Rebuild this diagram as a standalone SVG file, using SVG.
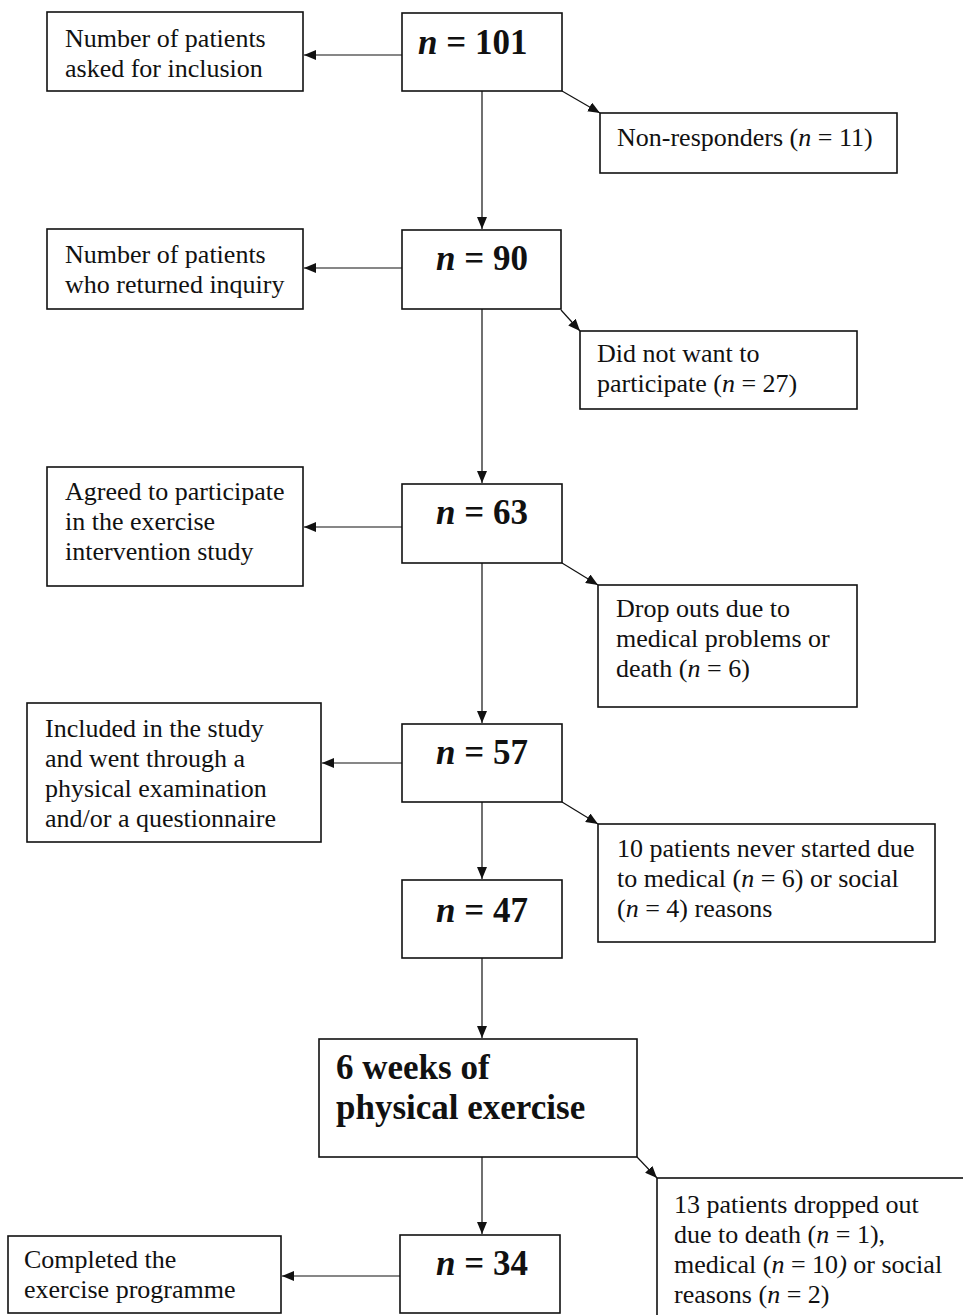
<svg xmlns="http://www.w3.org/2000/svg" width="963" height="1315" viewBox="0 0 963 1315">
<style>
.box{fill:#fff;stroke:#111;stroke-width:1.6}
.ln{stroke:#111;stroke-width:1.2;fill:none;marker-end:url(#ah)}
.t{font-family:"Liberation Serif","Times New Roman",serif;font-size:26px;fill:#111}
.b{font-family:"Liberation Serif","Times New Roman",serif;font-size:35px;font-weight:bold;fill:#111}
.i{font-style:italic}
</style>
<defs>
<marker id="ah" markerUnits="userSpaceOnUse" markerWidth="12" markerHeight="10" refX="12" refY="5" orient="auto">
<path d="M0,0 L12,5 L0,10 Z" fill="#111"/>
</marker>
</defs>
<rect width="963" height="1315" fill="#fff"/>

<g id="connectors">
<line class="ln" x1="402" y1="55" x2="304" y2="55"/>
<line class="ln" x1="562" y1="91" x2="600" y2="113"/>
<line class="ln" x1="482" y1="91" x2="482" y2="229"/>
<line class="ln" x1="402" y1="268" x2="304" y2="268"/>
<line class="ln" x1="561" y1="310" x2="580" y2="331"/>
<line class="ln" x1="482" y1="309" x2="482" y2="483"/>
<line class="ln" x1="402" y1="527" x2="304" y2="527"/>
<line class="ln" x1="562" y1="563" x2="598" y2="585"/>
<line class="ln" x1="482" y1="563" x2="482" y2="723"/>
<line class="ln" x1="402" y1="763" x2="322" y2="763"/>
<line class="ln" x1="562" y1="802" x2="598" y2="824"/>
<line class="ln" x1="482" y1="802" x2="482" y2="879"/>
<line class="ln" x1="482" y1="958" x2="482" y2="1038"/>
<line class="ln" x1="637" y1="1157" x2="657" y2="1178"/>
<line class="ln" x1="482" y1="1157" x2="482" y2="1234"/>
<line class="ln" x1="400" y1="1276" x2="282" y2="1276"/>
</g>

<g id="asked">
<rect class="box" x="47" y="12" width="256" height="79"/>
<text class="t" x="65" y="47">Number of patients</text>
<text class="t" x="65" y="77">asked for inclusion</text>
</g>
<g id="n101">
<rect class="box" x="402" y="13" width="160" height="78"/>
<text class="b" x="418" y="54"><tspan class="i">n</tspan> = 101</text>
</g>
<g id="nonresp">
<rect class="box" x="600" y="113" width="297" height="60"/>
<text class="t" x="617" y="146">Non-responders (<tspan class="i">n</tspan> = 11)</text>
</g>

<g id="returned">
<rect class="box" x="47" y="229" width="256" height="80"/>
<text class="t" x="65" y="263">Number of patients</text>
<text class="t" x="65" y="293">who returned inquiry</text>
</g>
<g id="n90">
<rect class="box" x="402" y="230" width="159" height="79"/>
<text class="b" x="436" y="270"><tspan class="i">n</tspan> = 90</text>
</g>
<g id="notwant">
<rect class="box" x="580" y="331" width="277" height="78"/>
<text class="t" x="597" y="362">Did not want to</text>
<text class="t" x="597" y="392">participate (<tspan class="i">n</tspan> = 27)</text>
</g>

<g id="agreed">
<rect class="box" x="47" y="467" width="256" height="119"/>
<text class="t" x="65" y="500">Agreed to participate</text>
<text class="t" x="65" y="530">in the exercise</text>
<text class="t" x="65" y="560">intervention study</text>
</g>
<g id="n63">
<rect class="box" x="402" y="484" width="160" height="79"/>
<text class="b" x="436" y="524"><tspan class="i">n</tspan> = 63</text>
</g>
<g id="dropouts">
<rect class="box" x="598" y="585" width="259" height="122"/>
<text class="t" x="616" y="617">Drop outs due to</text>
<text class="t" x="616" y="647">medical problems or</text>
<text class="t" x="616" y="677">death (<tspan class="i">n</tspan> = 6)</text>
</g>

<g id="included">
<rect class="box" x="27" y="703" width="294" height="139"/>
<text class="t" x="45" y="737">Included in the study</text>
<text class="t" x="45" y="767">and went through a</text>
<text class="t" x="45" y="797">physical examination</text>
<text class="t" x="45" y="827">and/or a questionnaire</text>
</g>
<g id="n57">
<rect class="box" x="402" y="724" width="160" height="78"/>
<text class="b" x="436" y="764"><tspan class="i">n</tspan> = 57</text>
</g>
<g id="neverstarted">
<rect class="box" x="598" y="824" width="337" height="118"/>
<text class="t" x="617" y="857">10 patients never started due</text>
<text class="t" x="617" y="887">to medical (<tspan class="i">n</tspan> = 6) or social</text>
<text class="t" x="617" y="917">(<tspan class="i">n</tspan> = 4) reasons</text>
</g>

<g id="n47">
<rect class="box" x="402" y="880" width="160" height="78"/>
<text class="b" x="436" y="922"><tspan class="i">n</tspan> = 47</text>
</g>

<g id="weeks">
<rect class="box" x="319" y="1039" width="318" height="118"/>
<text class="b" x="336" y="1079">6 weeks of</text>
<text class="b" x="336" y="1119">physical exercise</text>
</g>
<g id="dropped13">
<rect class="box" x="657" y="1178" width="400" height="200"/>
<text class="t" x="674" y="1213">13 patients dropped out</text>
<text class="t" x="674" y="1243">due to death (<tspan class="i">n</tspan> = 1),</text>
<text class="t" x="674" y="1273">medical (<tspan class="i">n</tspan> = 10<tspan class="i">)</tspan> or social</text>
<text class="t" x="674" y="1303">reasons (<tspan class="i">n</tspan> = 2)</text>
</g>

<g id="completed">
<rect class="box" x="8" y="1236" width="273" height="77"/>
<text class="t" x="24" y="1268">Completed the</text>
<text class="t" x="24" y="1298">exercise programme</text>
</g>
<g id="n34">
<rect class="box" x="400" y="1235" width="160" height="78"/>
<text class="b" x="436" y="1275"><tspan class="i">n</tspan> = 34</text>
</g>
</svg>
